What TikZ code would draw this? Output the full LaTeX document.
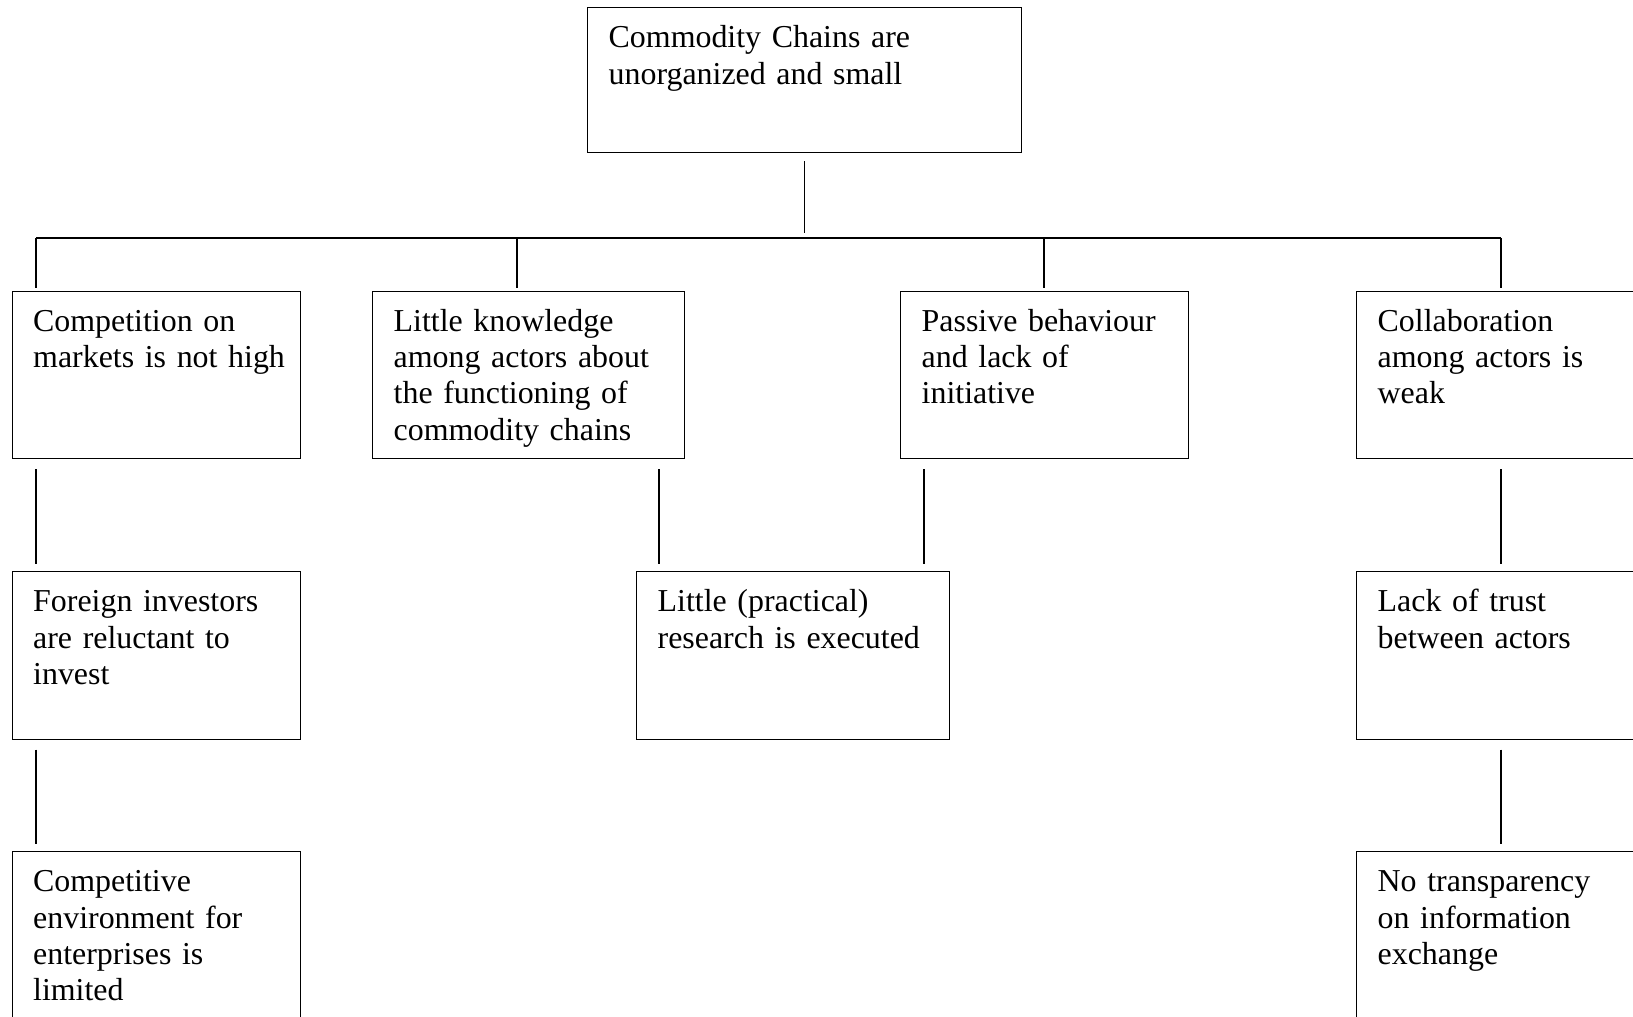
\documentclass[tikz,border=0pt]{standalone}
\usepackage{fontspec}
\setmainfont{Liberation Serif}
\begin{document}
\begin{tikzpicture}[
	x=0.376pt, y=-0.376pt,
	cause/.style={draw, line width=0.5pt, anchor=north west, align=left,
		inner xsep=7.9pt, inner ysep=0pt, text height=15pt, text depth=48pt,
		font=\fontsize{12}{13.7}\selectfont},
	link/.style={line width=0.5pt}
	]
	\useasboundingbox (0,0) rectangle (1633,1016);
	\clip (0,0) rectangle (1633,1016);
	% problem and causes
	\node[cause, text width=147.4pt, text depth=39.5pt] (top) at (587,7) {Commodity Chains are\\unorganized and small};
	\node[cause, text width=92.7pt] (a1) at (11.5,290.5) {Competition on\\\mbox{markets is not high}};
	\node[cause, text width=101.5pt] (b1) at (372,290.5) {Little knowledge\\among actors about\\the functioning of\\commodity chains};
	\node[cause, text width=92.5pt] (c1) at (900,290.5) {Passive behaviour\\and lack of\\initiative};
	\node[cause, text width=93.2pt] (d1) at (1356,290.5) {Collaboration\\among actors is\\weak};
	\node[cause, text width=92.7pt] (a2) at (11.5,571) {Foreign investors\\are reluctant to\\invest};
	\node[cause, text width=101.9pt] (bc2) at (636,571) {Little (practical)\\research is executed};
	\node[cause, text width=93.2pt] (d2) at (1356,571) {Lack of trust\\between actors};
	\node[cause, text width=92.7pt] (a3) at (11.5,851) {Competitive\\environment for\\enterprises is\\limited};
	\node[cause, text width=93.2pt] (d3) at (1356,851) {No transparency\\on information\\exchange};
	% connectors
	\coordinate (barL) at (36,238);
	\coordinate (barR) at (1501,238);
	\draw[link] (barL) -- (barR);
	\draw[link, shorten <=3pt, shorten >=1.9pt] (top.south) -- (top.south |- barL);
	\foreach \x/\n in {36/a1, 517/b1, 1044/c1, 1501/d1}
		\draw[link, shorten >=1pt] (\x,238) -- (\n.north -| \x,0);
	\foreach \x/\u/\l in {36/a1/a2, 659/b1/bc2, 924/c1/bc2, 1501/d1/d2, 36/a2/a3, 1501/d2/d3}
		\draw[link, shorten <=3.7pt, shorten >=2.8pt] (\u.south -| \x,0) -- (\l.north -| \x,0);
\end{tikzpicture}
\end{document}
